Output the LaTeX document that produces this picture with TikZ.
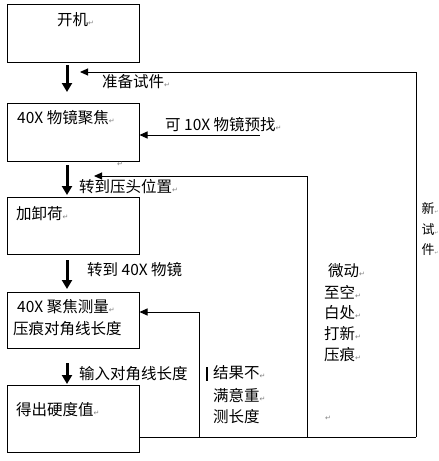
\documentclass[tikz,border=0pt]{standalone}
\usepackage{fontspec}
\setmainfont{Noto Sans CJK SC}
\newfontfamily\dejavu{DejaVu Sans}
\usetikzlibrary{arrows.meta}
\newcommand\pmk{{\dejavu\fontsize{7}{7}\selectfont\color{gray}↵}}
\newcommand\pmks{{\dejavu\fontsize{4.5}{5}\selectfont\color{gray}↵}}
\tikzset{
  box/.style={draw, line width=1pt, minimum width=132pt, inner sep=0pt},
  txt/.style={anchor=west, inner sep=0pt, font=\fontsize{15.5}{18}\selectfont},
  down/.style={line width=3pt, -{Triangle[length=9pt,width=10pt]}},
  fb/.style={line width=1pt, -{Triangle[length=8pt,width=7pt]}},
  ln/.style={line width=1pt}
}
\begin{document}
\begin{tikzpicture}[x=1pt,y=-1pt]
\useasboundingbox (0,0) rectangle (439,461);
% boxes
\node[box, minimum height=58pt] (b1) at (73,33) {};
\node[box, minimum height=58pt] (b2) at (73,132) {};
\node[box, minimum height=57pt] (b3) at (73,225.5) {};
\node[box, minimum height=56pt] (b4) at (73,320) {};
\node[box, minimum height=67pt] (b5) at (73,418.5) {};
% box texts
\node[txt] (t1) at (57,20) {开机\pmk};
\node[txt] (t2) at (17,118) {40X 物镜聚焦\pmk};
\node[txt] (t3) at (16,214) {加卸荷\pmk};
\node[txt] (t4a) at (17,307) {40X 聚焦测量\pmk};
\node[txt] (t4b) at (13,329) {压痕对角线长度};
\node[txt] (t5) at (16,410) {得出硬度值\pmk};
% down arrows
\coordinate (d1) at (67,65);  \coordinate (d1e) at (67,92);
\coordinate (d2) at (67,165); \coordinate (d2e) at (67,195);
\coordinate (d3) at (67,260); \coordinate (d3e) at (67,289);
\coordinate (d4) at (67,363); \coordinate (d4e) at (67,384);
\draw[down] (d1) -- (d1e);
\draw[down] (d2) -- (d2e);
\draw[down] (d3) -- (d3e);
\draw[down] (d4) -- (d4e);
% arrow labels
\node[txt] (l1) at (102,82) {准备试件\pmk};
\node[txt] (l2) at (165,125) {可 10X 物镜预找\pmk};
\node[txt] (l3) at (79,187) {转到压头位置\pmk};
\node[txt] (l4) at (87,270) {转到 40X 物镜};
\node[txt] (l5) at (79,374) {输入对角线长度};
\node (pm1) at (120,164) {\pmk};
% feedback coordinates
\coordinate (c1) at (416,437);
\coordinate (c2) at (416,72);
\coordinate (e1) at (80,72);
\coordinate (c3) at (307,437);
\coordinate (c4) at (307,176);
\coordinate (e2) at (94,176);
\coordinate (c5) at (199,437);
\coordinate (c6) at (199,312);
\coordinate (c7) at (260,135);
% feedback lines
\draw[ln] (b5.east |- c1) -- (c1);
\draw[fb] (c1) -- (c2) -- (e1);
\draw[fb] (c3) -- (c4) -- (e2);
\draw[fb] (c5) -- (c6) -- (b4.east |- c6);
\draw[fb] (c7) -- (b2.east |- c7);
% right labels
\node[txt] (r1) at (206,373) {\rule[-2pt]{2pt}{14pt}\hspace{5pt}结果不\pmk};
\node[txt] (r2) at (213,396) {满意重\pmk};
\node[txt] (r3) at (213,417) {测长度};
\node[txt] (m1) at (328,271) {微动\pmk};
\node[txt] (m2) at (324,292) {至空\pmk};
\node[txt] (m3) at (324,313) {白处\pmk};
\node[txt] (m4) at (324,334) {打新\pmk};
\node[txt] (m5) at (324,355) {压痕\pmk};
\node (pm2) at (328,418) {\pmk};
\node[txt, font=\fontsize{13}{15}\selectfont] (n1) at (421.5,208) {新\pmks};
\node[txt, font=\fontsize{13}{15}\selectfont] (n2) at (421.5,230) {试\pmks};
\node[txt, font=\fontsize{13}{15}\selectfont] (n3) at (421.5,250) {件\pmks};
\end{tikzpicture}
\end{document}
